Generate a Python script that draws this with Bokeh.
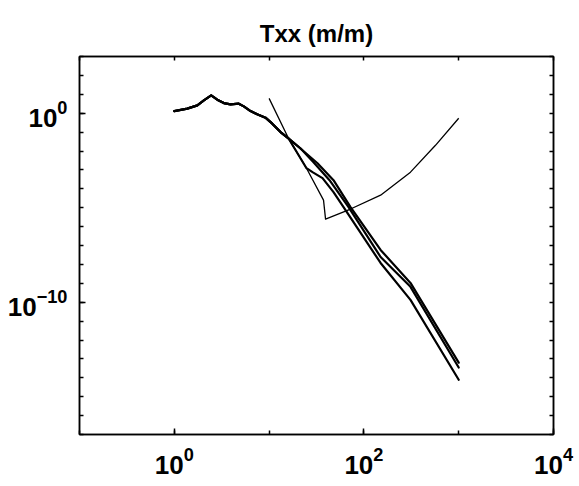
from bokeh.plotting import figure
from bokeh.models import FixedTicker, LogAxis, Range1d
from bokeh.embed import file_html
from bokeh.resources import INLINE

# Low-frequency part shared by the three transfer curves (frequency, Txx in m/m)
shared_f = [1.0, 1.37, 1.75, 2.05, 2.45, 2.84, 3.33, 3.92, 4.79, 5.41, 6.37, 7.48, 9.16, 10.8, 13.2, 16.0]
shared_t = [1.30, 1.74, 2.59, 4.76, 8.75, 5.19, 3.44, 2.93, 3.19, 2.30, 1.30, 0.87, 0.58, 0.28, 0.10, 0.047]

# High-frequency roll-off of each curve
upper_f = [22.5, 32.4, 47.8, 72.3, 150, 310, 1000]
upper_t = [1.1e-2, 2.26e-3, 2.86e-4, 1.08e-5, 5.8e-8, 1.05e-9, 6.3e-14]

middle_f = [21.4, 29.4, 43.4, 68.9, 150, 310, 1000]
middle_t = [1.4e-2, 2.55e-3, 2.86e-4, 1.08e-5, 2.47e-8, 6.5e-10, 3.5e-14]

lower_f = [24.8, 28.7, 36.6, 47.8, 61.0, 150, 310, 1000]
lower_t = [1.23e-3, 7.6e-4, 3.65e-4, 6.65e-5, 1.08e-5, 1.19e-8, 1.33e-10, 7.9e-15]

# Thin reference line: steep asymptote, drop, then rising branch
thin_f = [10.0, 16.0, 24.8, 37.5, 39.4, 72.3, 150, 310, 569, 1000]
thin_t = [6.08, 0.047, 1.23e-3, 2.5e-5, 2.5e-6, 8.5e-6, 4.6e-5, 7.6e-4, 0.02, 0.54]

# Axis ticks (labelled decades and every decade)
x_labelled = [1, 100, 10000]
y_labelled = [1, 1e-10]
x_decades = [10.0 ** k for k in range(-1, 5)]
y_decades = [10.0 ** k for k in range(-17, 4)]

TITLE = "Txx (m/m)"
FONT = "Liberation Sans"

p = figure(
    width=579, height=486,
    x_axis_type="log", y_axis_type="log",
    x_range=Range1d(0.1, 1e4), y_range=Range1d(1e-17, 1e3),
    output_backend="svg", toolbar_location=None,
    min_border_left=79, min_border_right=26,
    min_border_top=56, min_border_bottom=52,
    background_fill_color="white", border_fill_color="white",
)
p.grid.visible = False
p.outline_line_color = "black"
p.outline_line_width = 1.5

p.title.text = TITLE
p.title.align = "center"
p.title.text_font = FONT
p.title.text_font_size = "24px"
p.title.text_font_style = "bold"
p.title.text_color = "black"
p.title.standoff = 20

for ax, labelled, decades in ((p.xaxis[0], x_labelled, x_decades),
                              (p.yaxis[0], y_labelled, y_decades)):
    ax.ticker = FixedTicker(ticks=labelled, minor_ticks=decades)
    ax.axis_line_color = "black"
    ax.axis_line_width = 1.5
    ax.major_tick_in = 6
    ax.major_tick_out = 0
    ax.minor_tick_in = 4
    ax.minor_tick_out = 0
    ax.major_tick_line_color = "black"
    ax.minor_tick_line_color = "black"
    ax.major_tick_line_width = 1.5
    ax.minor_tick_line_width = 1.5
    ax.major_label_text_font = FONT
    ax.major_label_text_font_size = "26px"
    ax.major_label_text_font_style = "bold"
    ax.major_label_text_color = "black"
    ax.major_label_standoff = 12

# Tick marks on the top and right edges of the box
for loc, decades in (("above", x_decades), ("right", y_decades)):
    box_ax = LogAxis(
        ticker=FixedTicker(ticks=[], minor_ticks=decades),
        axis_line_color="black", axis_line_width=1.5,
        major_tick_in=0, major_tick_out=0,
        minor_tick_in=4, minor_tick_out=0,
        minor_tick_line_color="black", minor_tick_line_width=1.5,
        major_label_text_font_size="0px", major_label_standoff=0,
    )
    p.add_layout(box_ax, loc)

for fx, tx in ((upper_f, upper_t), (middle_f, middle_t), (lower_f, lower_t)):
    p.line(shared_f + fx, shared_t + tx, line_color="black", line_width=2.2,
           line_join="round", line_cap="round")

p.line(thin_f, thin_t, line_color="black", line_width=1.3, line_join="round")

open("out.html", "w").write(file_html(p, INLINE))
